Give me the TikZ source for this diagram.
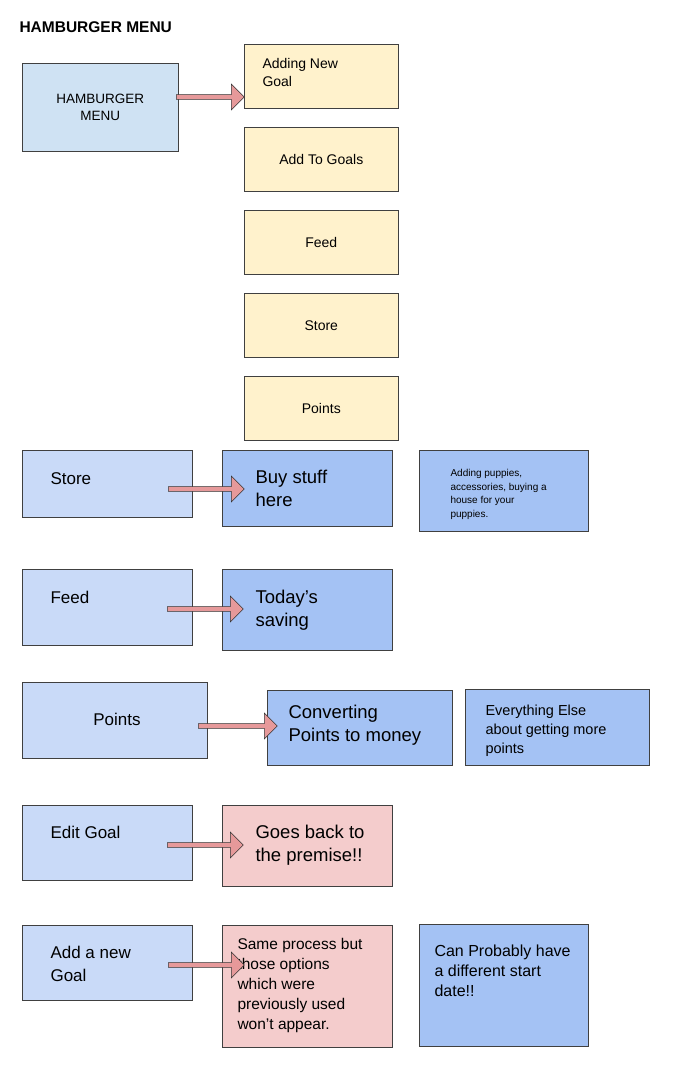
\documentclass[tikz,border=0pt]{standalone}
\usepackage{fontspec}
\setmainfont{Liberation Sans}
\usetikzlibrary{shapes.arrows,positioning}
\definecolor{menublue}{HTML}{CFE2F3}
\definecolor{lightblue}{HTML}{C9DAF8}
\definecolor{midblue}{HTML}{A4C2F4}
\definecolor{paleyellow}{HTML}{FFF2CC}
\definecolor{palepink}{HTML}{F4CCCC}
\definecolor{arrowpink}{HTML}{E6999A}
\begin{document}
\begin{tikzpicture}[x=1pt,y=-1pt]
	\tikzstyle{box} = [draw=black!75,line width=0.6pt,anchor=north west,inner sep=0pt]
	\tikzstyle{blk} = [single arrow,draw=black!80,fill=arrowpink,line width=0.6pt,minimum height=76pt,minimum width=26pt,single arrow head extend=6pt,single arrow head indent=0pt,inner sep=1pt,anchor=west]
	\useasboundingbox[fill=white] (0,0) rectangle (676,1072);
	\node[anchor=west](title) at (16,27){\bfseries\fontsize{15.5}{18}\selectfont HAMBURGER MENU};
	% hamburger menu
	\node[box,fill=menublue,minimum width=156pt,minimum height=88pt](ham) at (22,63){};
	\node[align=center,font=\fontsize{13.5}{17}\selectfont](hamt) at (ham.center){HAMBURGER\\MENU};
	\foreach \t [count=\i] in {{Add To Goals},Feed,Store,Points}{
		\node[box,fill=paleyellow,minimum width=154pt,minimum height=64pt](y\i) at (244,44+\i*83){};
		\node[font=\fontsize{14}{17}\selectfont] at (y\i.center){\t};
	};
	\node[box,fill=paleyellow,minimum width=154pt,minimum height=64pt](y0) at (244,44){};
	\node[anchor=north west,align=left,font=\fontsize{14}{18}\selectfont] at (259,55){Adding New\\Goal};
	\node[blk,minimum height=68pt](a0) at (176,97){};
	% left column
	\node[box,fill=lightblue,minimum width=170pt,minimum height=67pt](store) at (22,450){};
	\node[anchor=north west,font=\fontsize{17}{20}\selectfont] at (47,469){Store};
	\node[box,fill=lightblue,minimum width=170pt,minimum height=76pt](feed) at (22,569){};
	\node[anchor=north west,font=\fontsize{17}{20}\selectfont] at (47,588){Feed};
	\node[box,fill=lightblue,minimum width=185pt,minimum height=76pt](pts) at (22,682){};
	\node[font=\fontsize{17}{20}\selectfont] at (117,719){Points};
	\node[box,fill=lightblue,minimum width=170pt,minimum height=75pt](edit) at (22,805){};
	\node[anchor=north west,font=\fontsize{17}{20}\selectfont] at (47,823){Edit Goal};
	\node[box,fill=lightblue,minimum width=170pt,minimum height=75pt](add) at (22,925){};
	\node[anchor=north west,align=left,font=\fontsize{17}{23}\selectfont] at (47,943){Add a new\\Goal};
	% middle column
	\node[box,fill=midblue,minimum width=170pt,minimum height=76pt](buy) at (222,450){};
	\node[anchor=north west,align=left,font=\fontsize{18.5}{23}\selectfont] at (252,467){Buy stuff\\here};
	\node[box,fill=midblue,minimum width=170pt,minimum height=81pt](save) at (222,569){};
	\node[anchor=north west,align=left,font=\fontsize{18.5}{23}\selectfont] at (252,587){Today's\\saving};
	\node[box,fill=midblue,minimum width=185pt,minimum height=75pt](conv) at (267,690){};
	\node[anchor=north west,align=left,font=\fontsize{18.5}{23}\selectfont] at (285,702){Converting\\Points to money};
	\node[box,fill=palepink,minimum width=170pt,minimum height=81pt](back) at (222,805){};
	\node[anchor=north west,align=left,font=\fontsize{18.5}{23}\selectfont] at (252,822){Goes back to\\the premise!!};
	\node[box,fill=palepink,minimum width=170pt,minimum height=122pt](same) at (222,925){};
	\node[anchor=north west,align=left,font=\fontsize{15.5}{20}\selectfont] at (234,935){Same process but\\those options\\which were\\previously used\\won't appear.};
	% right column
	\node[box,fill=midblue,minimum width=169pt,minimum height=81pt](note) at (419,450){};
	\node[anchor=north west,align=left,font=\fontsize{10}{13.5}\selectfont] at (447,466){Adding puppies,\\accessories, buying a\\house for your\\puppies.};
	\node[box,fill=midblue,minimum width=184pt,minimum height=76pt](else) at (465,689){};
	\node[anchor=north west,align=left,font=\fontsize{14.5}{19}\selectfont] at (482,701){Everything Else\\about getting more\\points};
	\node[box,fill=midblue,minimum width=169pt,minimum height=122pt](diff) at (419,924){};
	\node[anchor=north west,align=left,font=\fontsize{16}{20}\selectfont] at (431,941){Can Probably have\\a different start\\date!!};
	% block arrows
	\node[blk](a1) at (168,489){};
	\node[blk](a2) at (167,609){};
	\node[blk,minimum height=79pt](a3) at (198,726){};
	\node[blk](a4) at (167,845){};
	\node[blk](a5) at (168,965){};
\end{tikzpicture}
\end{document}
